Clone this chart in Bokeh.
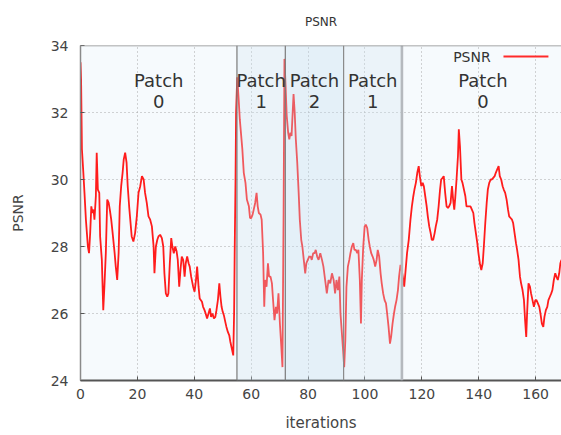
from bokeh.plotting import figure
from bokeh.models import Label, Span, BoxAnnotation, Range1d, SingleIntervalTicker
from bokeh.embed import file_html
from bokeh.resources import INLINE

# ---------------- data ----------------
iters = [0.0, 0.2, 0.5, 1.0, 1.4, 1.9, 2.6, 3.0, 3.4, 3.8, 4.2, 4.6, 4.9, 5.4, 5.7, 6.1, 6.6, 6.9, 7.5, 8.0,
         8.4, 8.9, 9.4, 9.9, 10.3, 10.8, 11.3, 12.0, 12.4, 12.9, 13.4, 13.8, 14.3, 14.8, 15.2, 15.7, 16.2, 16.6,
         17.1, 17.6, 18.0, 18.6, 19.2, 19.8, 20.4, 21.0, 21.6, 22.2, 22.7, 23.3, 23.9, 24.5, 25.1, 25.7, 26.0,
         26.5, 27.0, 27.4,
         28.0, 28.6, 29.1, 29.5, 30.0, 30.5, 30.9, 31.4, 31.9, 32.3, 32.8, 33.3, 33.8, 34.2, 34.7, 35.2, 35.6,
         36.1, 36.6, 37.0, 37.5, 38.0, 38.4, 38.9, 39.6, 40.1, 40.6, 41.0, 41.5, 41.9, 42.7, 43.1, 43.6, 44.0,
         44.5, 45.0, 45.5, 45.9, 46.4, 46.9, 47.4, 47.8, 48.3, 48.8, 49.2, 49.6, 50.0, 50.4, 50.9, 51.3, 51.8,
         52.3, 52.7, 53.2, 53.7, 54.0, 54.2, 54.5, 54.7, 55.1,
         55.6, 56.0, 56.9, 57.4, 58.0, 58.5, 59.2, 59.6, 60.0, 60.5, 60.9, 61.4, 61.9, 62.3, 62.7, 63.3, 63.7, 64.2,
         64.6, 64.9, 65.4, 65.9, 66.3, 66.8, 67.3, 67.7, 68.2, 68.7, 69.1, 69.6, 70.1, 70.6, 71.0, 71.4, 71.7,
         72.1, 72.5, 73.0, 73.4, 73.8, 74.2, 74.9, 75.3, 75.7, 76.2, 76.7, 77.1, 77.6, 78.0, 78.5, 79.0, 79.4,
         79.9, 80.4, 80.9, 81.3, 81.8, 82.3, 82.7, 83.2, 83.7, 84.3, 84.9, 85.4, 86.0, 86.6, 87.2, 87.8, 88.4,
         89.0, 89.5, 90.0, 90.5, 91.0, 91.4, 91.9, 92.4, 92.7, 93.1, 93.5, 94.0, 94.5, 94.9, 95.4, 95.9, 96.3,
         96.8, 97.3, 97.7, 98.2, 98.6, 98.9, 99.4, 99.9, 100.3, 100.8, 101.3, 101.7, 102.2, 102.7, 103.1,
         103.6, 104.1, 104.5, 105.0, 105.5, 105.9, 106.4, 106.9, 107.4, 107.8, 108.3, 108.8, 109.2, 109.7,
         110.2, 110.6, 111.1, 111.6, 112.0, 112.5, 112.9, 113.3, 113.8, 114.3, 114.8, 115.4, 116.0, 116.5,
         117.0, 117.4, 117.9, 118.4, 118.9, 119.3, 119.8, 120.3, 120.7, 121.2, 121.7, 122.1, 122.6, 123.1,
         123.5, 124.0, 124.5, 124.9, 125.4, 125.9, 126.4, 126.8, 127.3, 127.7, 128.2, 128.7, 129.2, 129.6,
         130.1, 130.6, 131.0, 131.4, 131.7, 132.2, 132.7, 133.0, 133.4, 133.9, 134.3, 134.8, 135.3, 135.7,
         136.2, 136.7, 137.1, 137.6, 138.1, 138.5, 139.0, 139.5, 139.9, 140.4, 140.9, 141.4, 141.8, 142.3,
         142.8, 143.2, 143.7, 144.2, 144.6, 145.1, 145.6, 146.0, 146.5, 147.0, 147.4, 147.9, 148.4, 148.8,
         149.3, 149.8, 150.3, 150.7, 151.2, 151.7, 152.1, 152.6, 153.1, 153.5, 154.0, 154.5, 154.9, 155.4,
         155.9, 156.3, 156.7, 157.0, 157.5, 158.0, 158.4, 158.9, 159.4, 159.9, 160.3, 160.8, 161.3, 161.7,
         162.2, 162.7, 163.1, 163.6, 164.1, 164.5, 165.0, 165.5, 165.9, 166.4, 166.9, 167.3, 167.8, 168.3,
         168.7, 169.1]

psnr = [33.5, 33.0, 30.9, 30.2, 29.6, 28.8, 28.0, 27.8, 28.4, 29.2, 29.0, 29.1, 28.8, 29.5, 30.8, 29.7, 29.6,
        28.3, 27.6, 26.1, 26.8, 27.8, 29.4, 29.3, 29.1, 28.8, 28.4, 27.8, 27.4, 27.0, 27.8, 29.2, 29.8, 30.2,
        30.6, 30.8, 30.5, 29.8, 29.2, 28.7, 28.3, 28.15, 28.4, 28.9, 29.6, 29.8, 30.1, 30.0, 29.6, 29.3, 28.9,
        28.8, 28.6, 28.0, 27.2, 28.0, 28.2, 28.3,
        28.35, 28.25, 28.0, 27.2, 26.6, 26.5, 26.6, 27.5, 28.25, 28.0, 27.8, 28.0, 27.85, 27.6, 26.8, 27.35,
        27.7, 27.6, 27.1, 27.5, 27.7, 27.5, 27.4, 27.1, 26.8, 26.65, 27.0, 27.4, 26.8, 26.45, 26.35, 26.2,
        26.1, 26.0, 25.85, 26.0, 26.15, 25.9, 26.0, 25.85, 25.9, 26.1, 26.4, 26.9, 26.5, 26.2, 26.05, 25.95,
        25.75, 25.6, 25.45, 25.35, 25.15, 24.95, 24.75, 26.0, 27.8, 30.0, 32.0, 33.05,
        32.4, 31.8, 30.9, 30.2, 29.9, 29.4, 29.2, 28.85, 28.85, 28.95, 29.1, 29.3, 29.6, 29.2, 29.0, 28.95, 28.8,
        27.8, 26.2, 27.0, 26.8, 27.5, 27.1, 27.1, 26.9, 26.4, 25.8, 26.2, 26.0, 26.6, 25.7, 25.0, 24.4, 29.0,
        33.6, 32.8, 31.9, 31.4, 31.2, 31.4, 31.3, 32.55, 32.0, 31.2, 30.5, 29.6, 28.8, 28.2, 28.0, 27.6, 27.2,
        27.5, 27.6, 27.7, 27.7, 27.6, 27.8, 27.8, 27.9, 27.7, 27.6, 27.8, 27.6, 27.4, 27.0, 26.6, 27.0, 26.9,
        27.2, 27.0, 26.6, 27.0, 26.7, 27.1, 26.0, 25.4, 24.8, 24.4, 25.2, 26.8, 27.4, 27.6, 27.8, 28.0, 28.1,
        27.9, 27.9, 27.8, 27.9, 27.0, 25.7, 27.0, 28.0, 28.6, 28.65, 28.55, 28.2, 28.0, 27.8, 27.7, 27.6,
        27.4, 27.6, 27.9, 27.7, 27.2, 26.9, 26.6, 26.4, 26.3, 26.0, 25.6, 25.1, 25.3, 25.7, 26.0, 26.2, 26.4,
        26.7, 27.1, 27.45, 27.3, 27.1, 26.8, 27.3, 27.8, 28.2, 28.8, 29.2, 29.5, 29.7, 29.9, 30.2, 30.4, 30.1,
        29.8, 29.9, 29.8, 29.5, 29.2, 28.9, 28.6, 28.4, 28.2, 28.2, 28.4, 28.6, 28.8, 29.2, 29.7, 30.0, 30.05,
        30.1, 29.6, 29.2, 29.15, 29.2, 29.3, 29.8, 29.4, 29.1, 29.4, 30.0, 30.7, 31.5, 31.0, 30.0, 29.9, 29.7,
        29.5, 29.2, 29.2, 29.2, 29.2, 29.1, 29.0, 28.7, 28.4, 28.1, 27.8, 27.5, 27.3, 27.5, 28.0, 28.7, 29.3,
        29.7, 29.9, 30.0, 30.0, 30.05, 30.1, 30.2, 30.3, 30.4, 30.1, 30.0, 29.8, 29.7, 29.6, 29.4, 29.1, 28.9,
        28.85, 28.8, 28.7, 28.4, 28.1, 27.9, 27.6, 27.1, 26.9, 26.7, 26.4, 25.8, 25.3, 26.0, 26.9, 26.8, 26.6,
        26.4, 26.2, 26.4, 26.4, 26.3, 26.2, 26.0, 25.7, 25.6, 25.9, 26.1, 26.2, 26.4, 26.5, 26.6, 26.7, 27.0,
        27.2, 27.1, 27.0, 27.2, 27.5, 27.6]

patch_bounds = [0, 55, 72, 92.5, 113, 170]
patch_names = ["0", "1", "2", "1", "0"]
patch_shade = [None, ("#cfe3f2", 0.30), ("#c2dbee", 0.34), ("#cfe3f2", 0.30), None]

FONT = "DejaVu Sans"

p = figure(width=561, height=435, output_backend="svg", toolbar_location=None,
           x_range=Range1d(0, 169.1), y_range=Range1d(24, 34),
           min_border_left=80, min_border_right=0, min_border_top=44, min_border_bottom=55,
           background_fill_color="#f6fafd", border_fill_color="white", outline_line_color=None)

p.title.text = "PSNR"
p.title.align = "center"
p.title.offset = 20
p.title.text_font = FONT
p.title.text_font_size = "12px"
p.title.text_font_style = "normal"
p.title.text_color = "#333333"
p.title.vertical_align = "top"
p.title.text_line_height = 0.6
p.title.standoff = 29

p.line(iters, psnr, line_color="#ff1c1c", line_width=1.8)

# shading of patch regions (drawn over the curve)
for i, shade in enumerate(patch_shade):
    if shade is not None:
        p.add_layout(BoxAnnotation(left=patch_bounds[i], right=patch_bounds[i + 1],
                                   fill_color=shade[0], fill_alpha=shade[1], line_color=None))

# region separators
sep_styles = [("#7a7a7a", 1.2), ("#7a7a7a", 1.2), ("#8a8a8a", 1.2), ("#b5b9be", 2.6)]
for b, (c, w) in zip(patch_bounds[1:-1], sep_styles):
    p.add_layout(Span(location=b, dimension="height", line_color=c, line_width=w))

# top border of the frame
p.add_layout(Span(location=34, dimension="width", line_color="#8a8a8a", line_width=1.5))

# patch labels
for i, name in enumerate(patch_names):
    cx = (patch_bounds[i] + patch_bounds[i + 1]) / 2
    p.add_layout(Label(x=cx, y=32.96, text="Patch", text_align="center", text_baseline="middle",
                       text_font=FONT, text_font_size="18px", text_color="#333333"))
    p.add_layout(Label(x=cx, y=32.33, text=name, text_align="center", text_baseline="middle",
                       text_font=FONT, text_font_size="18px", text_color="#333333"))

# legend (text then line sample, gnuplot style)
p.add_layout(Label(x=131.0, y=33.67, text="PSNR", text_align="left", text_baseline="middle",
                   text_font=FONT, text_font_size="14px", text_color="#333333"))
p.add_layout(BoxAnnotation(left=148.7, right=164.5, bottom=33.64, top=33.70,
                           fill_color="#ff2a2a", fill_alpha=1.0, line_color=None))

# grids
for g in (p.xgrid, p.ygrid):
    g.grid_line_color = "#a8a8a8"
    g.grid_line_dash = "1 3"
    g.grid_line_width = 1
p.xaxis.ticker = SingleIntervalTicker(interval=20)
p.yaxis.ticker = SingleIntervalTicker(interval=2)

for ax in (p.xaxis[0], p.yaxis[0]):
    ax.major_label_text_font = FONT
    ax.major_label_text_font_size = "14px"
    ax.major_label_text_color = "#444444"
    ax.axis_label_text_font = FONT
    ax.axis_label_text_font_style = "normal"
    ax.axis_label_text_color = "#444444"
    ax.major_tick_in = 4
    ax.major_tick_out = 0
    ax.minor_tick_in = 0
    ax.minor_tick_out = 0
    ax.major_tick_line_color = "#555555"

p.xaxis.axis_label = "iterations"
p.xaxis.axis_label_text_font_size = "15px"
p.xaxis.major_label_standoff = 8
p.xaxis.axis_label_standoff = 12
p.xaxis.axis_line_color = "#555555"
p.xaxis.axis_line_width = 2

p.yaxis.axis_label = "PSNR"
p.yaxis.axis_label_text_font_size = "14px"
p.yaxis.major_label_standoff = 12
p.yaxis.axis_label_standoff = 22
p.yaxis.axis_line_color = "#8a8a8a"
p.yaxis.axis_line_width = 1.5

open("out.html", "w").write(file_html(p, INLINE))
